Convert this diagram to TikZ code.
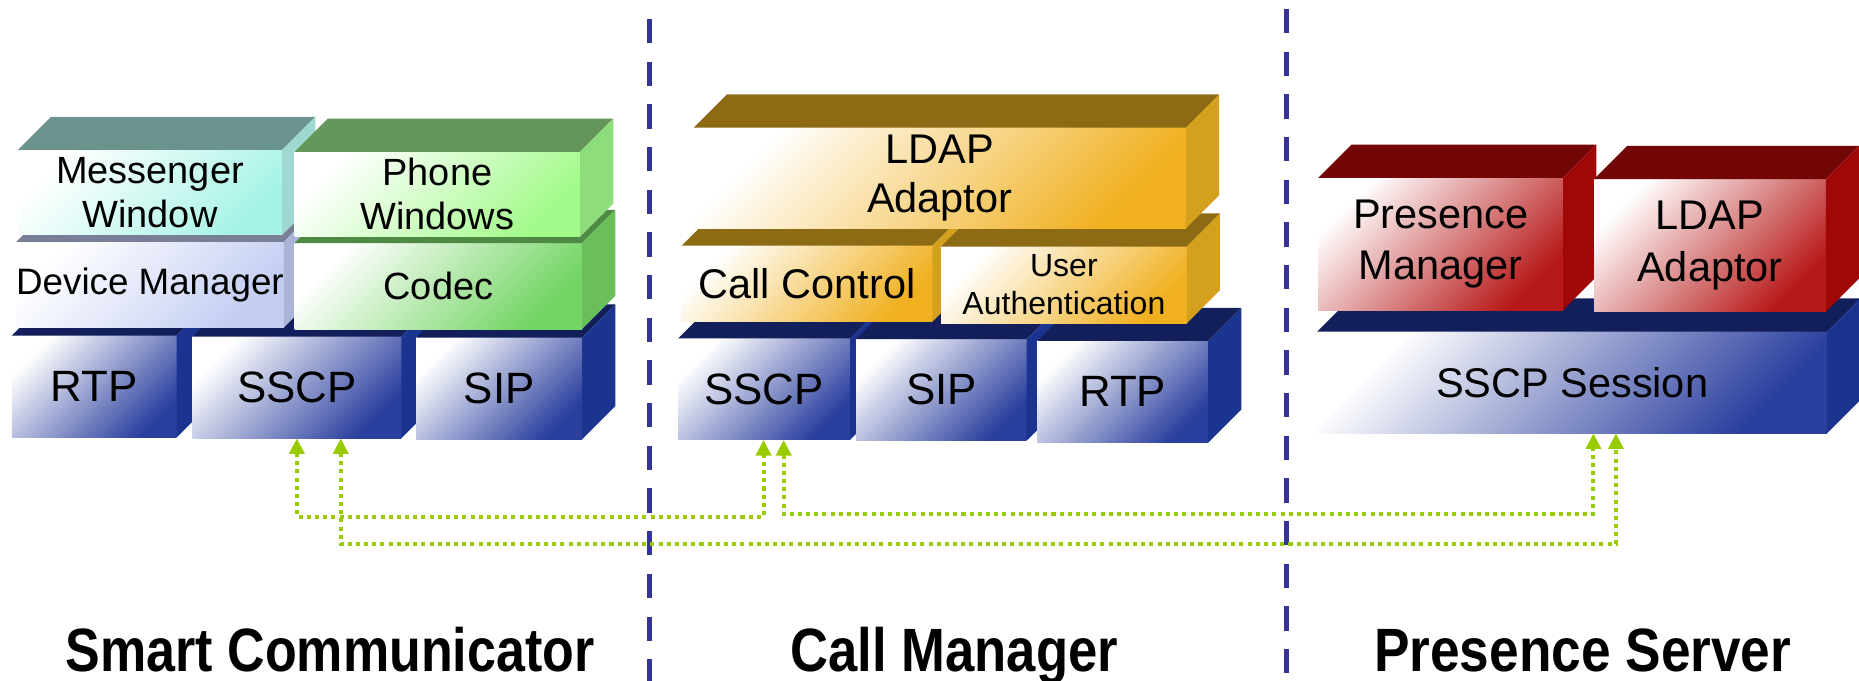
\documentclass[tikz,border=0pt]{standalone}
\usepackage{fontspec}
\setmainfont{Liberation Sans}
\usetikzlibrary{arrows.meta}

% 면 색: end = 앞면 그라데이션 끝, top = 윗면, side = 옆면
\definecolor{blend}{HTML}{2B3F9E}
\definecolor{bltop}{HTML}{121F5A}
\definecolor{blside}{HTML}{1B348F}
\definecolor{lvend}{HTML}{C3CDF2}
\definecolor{lvtop}{HTML}{7A7F98}
\definecolor{lvside}{HTML}{ABB4D6}
\definecolor{tlend}{HTML}{A6F3E6}
\definecolor{tltop}{HTML}{6A938D}
\definecolor{tlside}{HTML}{9ED8D0}
\definecolor{pgend}{HTML}{A2FA8A}
\definecolor{pgtop}{HTML}{64985A}
\definecolor{pgside}{HTML}{8FDC7C}
\definecolor{cgend}{HTML}{72D462}
\definecolor{cgtop}{HTML}{4F8A45}
\definecolor{cgside}{HTML}{6ABF5A}
\definecolor{gdend}{HTML}{F0B020}
\definecolor{gdtop}{HTML}{8C6B14}
\definecolor{gdside}{HTML}{D3A11D}
\definecolor{rdend}{HTML}{B71818}
\definecolor{rdtop}{HTML}{730606}
\definecolor{rdside}{HTML}{A00808}
\definecolor{dashblue}{HTML}{333399}
\definecolor{lgreen}{HTML}{99CC00}

\tikzset{
  facebox/.style={inner sep=0pt, outer sep=0pt, align=center,
    shade, top color=white, bottom color=#1end, shading angle=45,
    font=\fontsize{17.5}{21}\selectfont},
  sep/.style={draw=dashblue, line width=2.2pt, dash pattern=on 10.25pt off 7.75pt},
  link/.style={draw=lgreen, line width=1.7pt, dash pattern=on 1.7pt off 1.75pt,
    {Triangle[length=6.6pt,width=6.3pt]}-{Triangle[length=6.6pt,width=6.3pt]}},
  grouplabel/.style={anchor=base, font=\fontsize{25.8}{30}\selectfont\bfseries}
}

% 입체 상자: [글꼴] {이름}{색}{x1}{y1}{x2}{y2}{글자}
\newcommand{\layerbox}[8][]{%
  \node[facebox=#3, #1, minimum width={(#6-#4)*0.5pt}, minimum height={(#7-#5)*0.5pt}]
    (#2) at ({(#4+#6)/2},{(#5+#7)/2}) {#8};
  \fill[#3top] (#2.north west) -- ++(28,-28) -- ([shift={(28,-28)}]#2.north east) -- (#2.north east) -- cycle;
  \fill[#3side] (#2.north east) -- ++(28,-28) -- ([shift={(28,-28)}]#2.south east) -- (#2.south east) -- cycle;
}

\begin{document}
\begin{tikzpicture}[x=0.5pt, y=-0.5pt]
\useasboundingbox (0,0) rectangle (1568,574);

\draw[sep] (548,16) -- (548,574);  % 구분선
\draw[sep] (1085,7.5) -- (1085,574);

%% Smart Communicator
\begin{scope}
\layerbox[font=\fontsize{18.5}{22}\selectfont]{rtpsc}{bl}{10}{283}{149}{369}{RTP}
\layerbox[font=\fontsize{18.5}{22}\selectfont]{sscpsc}{bl}{162.4}{284}{338.5}{369.7}{SSCP}
\layerbox[font=\fontsize{18.5}{22}\selectfont]{sipsc}{bl}{351}{284.8}{491}{370.5}{SIP}
\layerbox[font=\fontsize{15.5}{18}\selectfont]{devmgr}{lv}{15}{204}{238}{276.4}{Device Manager}
\layerbox[font=\fontsize{16}{18.4}\selectfont]{codec}{cg}{248.5}{205}{491}{277.5}{Codec}
\layerbox[font=\fontsize{16}{18.4}\selectfont]{messenger}{tl}{15}{126.5}{238}{198.2}{Messenger\\Window}
\layerbox[font=\fontsize{16}{18.4}\selectfont]{phone}{pg}{248.5}{128}{489.3}{199.6}{Phone\\Windows}
\node[grouplabel] (sclabel) at (278.5,566) {\scalebox{0.85}[1]{Smart Communicator}};
\end{scope}

%% Call Manager
\begin{scope}
\layerbox[font=\fontsize{18.5}{22}\selectfont]{sscpcm}{bl}{572}{285.4}{717}{371}{SSCP}
\layerbox[font=\fontsize{18.5}{22}\selectfont]{sipcm}{bl}{722}{286}{866}{371.7}{SIP}
\layerbox[font=\fontsize{18.5}{22}\selectfont]{rtpcm}{bl}{875}{287.6}{1019}{373.4}{RTP}
\layerbox{callctl}{gd}{575}{207.2}{786.5}{271.3}{Call Control}
\layerbox[font=\fontsize{13.5}{16}\selectfont]{userauth}{gd}{793.7}{208}{1001}{272.7}{User\\Authentication}
\layerbox{ldapcm}{gd}{585}{107.7}{1000.3}{192.6}{LDAP\\Adaptor}
\node[grouplabel] (cmlabel) at (805,566) {\scalebox{0.86}[1]{Call Manager}};
\end{scope}

%% Presence Server
\begin{scope}
\layerbox{sscpps}{bl}{1111}{279.7}{1541}{365.5}{SSCP Session}
\layerbox[font=\fontsize{17.5}{21.8}\selectfont]{presmgr}{rd}{1112}{150}{1318.4}{261.5}{Presence\\Manager}
\layerbox[font=\fontsize{17.5}{21.8}\selectfont]{ldapps}{rd}{1344.5}{151}{1540}{262.9}{LDAP\\Adaptor}
\node[grouplabel] (pslabel) at (1335,566) {\scalebox{0.87}[1]{Presence Server}};
\end{scope}

% SSCP 연결
\draw[link] ([shift={(88,0)}]sscpsc.south west) -- ++(0,66) -| ([shift={(72,0)}]sscpcm.south west);
\draw[link] ([shift={(125,0)}]sscpsc.south west) -- ++(0,89.3) -| ([shift={(252,0)}]sscpps.south west);
\draw[link] ([shift={(89,0)}]sscpcm.south west) -- ++(0,62.5) -| ([shift={(233,0)}]sscpps.south west);
\end{tikzpicture}
\end{document}
